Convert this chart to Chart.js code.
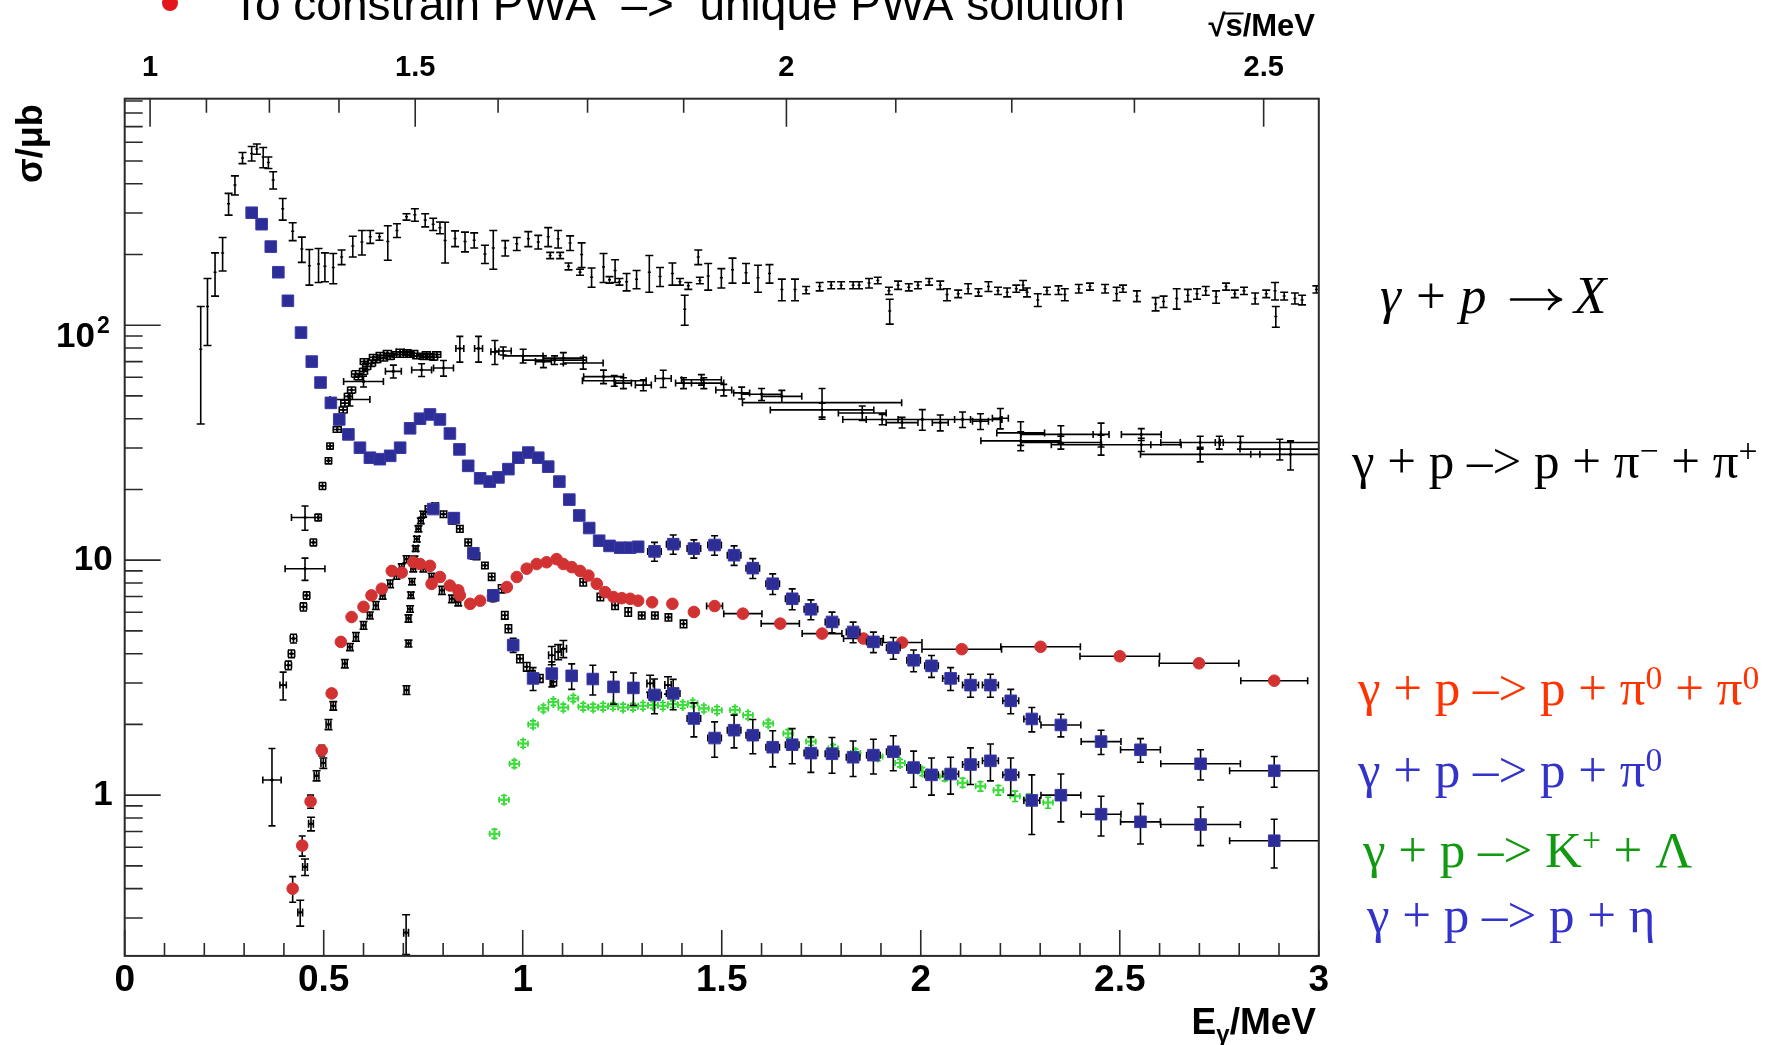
<!DOCTYPE html>
<html>
<head>
<meta charset="utf-8">
<script src="https://cdn.jsdelivr.net/npm/chart.js@4.4.1/dist/chart.umd.min.js"></script>
<style>
  html, body { margin: 0; padding: 0; background: #fff; }
  canvas { display: block; }
</style>
</head>
<body>
<canvas id="xsec" width="1778" height="1045"></canvas>
<script>
// ------------------------------------------------------------
// Photoproduction cross sections on the proton, sigma(E_gamma)
// ------------------------------------------------------------

// gamma + p -> X (total)
const totE = [0.191,0.208,0.227,0.246,0.261,0.277,0.296,0.319,0.332,0.348,0.361,0.373,0.397,0.422,0.445,0.464,0.487,0.503,0.524,0.545,0.573,0.596,0.617,0.640,0.661,0.684,0.708,0.729,0.755,0.775,0.792,0.805,0.830,0.855,0.878,0.905,0.926,0.956,0.985,1.014,1.039,1.064,1.069,1.089,1.094,1.115,1.119,1.144,1.148,1.173,1.203,1.218,1.232,1.243,1.261,1.286,1.318,1.345,1.376,1.395,1.407,1.416,1.441,1.445,1.466,1.499,1.527,1.561,1.591,1.620,1.651,1.684,1.712,1.746,1.775,1.800,1.830,1.845,1.870,1.892,1.920,1.922,1.943,1.970,1.993,2.021,2.049,2.066,2.094,2.119,2.145,2.170,2.194,2.217,2.240,2.257,2.267,2.294,2.317,2.346,2.362,2.397,2.425,2.463,2.492,2.508,2.543,2.590,2.610,2.643,2.671,2.694,2.716,2.742,2.767,2.789,2.812,2.840,2.868,2.890,2.892,2.913,2.940,2.958,2.994];
const totS = [79,120,168,203,329,395,515,538,562,519,492,415,313,251,211,179,182,178,176,195,217,226,238,238,227,253,289,295,280,269,260,229,234,227,230,201,213,213,222,233,226,238,198,233,198,178,224,168,200,160,177,156,171,153,153,157,168,161,166,153,117,147,195,155,162,159,172,167,159,166,142,142,141,146,148,148,148,148,151,155,140,115,148,145,148,153,148,135,136,143,138,146,140,138,143,148,138,128,140,141,135,143,146,143,136,143,133,123,126,130,134,136,140,132,146,136,140,130,136,140,109,133,130,128,142];
const totErr = [41,38,35,33,35,37,28,38,28,51,28,35,33,22,26,31,30,25,26,14,22,27,15,8,38,17,9,18,18,16,15,45,18,22,17,18,40,16,14,17,15,22,6,20,6,6,16,5,24,15,25,5,19,5,13,14,30,15,18,5,17,5,14,5,21,15,21,16,21,15,15,15,5,6,5,5,5,5,7,5,5,14,6,5,5,5,6,8,5,7,5,7,5,6,5,7,6,8,5,6,8,6,5,6,9,5,7,8,7,13,8,7,6,8,5,5,5,7,5,12,11,5,7,6,5];

// gamma + p -> p pi- pi+
const pipiE = [0.370,0.398,0.411,0.419,0.424,0.449,0.453,0.457,0.453,0.474,0.486,0.497,0.512,0.516,0.534,0.541,0.549,0.553,0.562,0.566,0.570,0.580,0.587,0.600,0.600,0.602,0.608,0.620,0.625,0.633,0.642,0.650,0.660,0.667,0.675,0.683,0.692,0.700,0.709,0.717,0.726,0.734,0.746,0.750,0.758,0.767,0.776,0.784,0.801,0.842,0.889,0.930,0.951,1.001,1.052,1.080,1.102,1.152,1.203,1.230,1.253,1.303,1.353,1.404,1.449,1.455,1.505,1.550,1.600,1.651,1.752,1.752,1.853,1.903,1.953,2.004,2.049,2.105,2.150,2.200,2.251,2.251,2.352,2.352,2.453,2.453,2.554,2.554,2.702,2.702,2.750,2.803,2.902,2.929];
const pipiS = [1.16,2.94,3.57,4.0,4.64,6.33,9.2,7.08,15.2,11.9,15.2,20.7,26.5,30.6,36.0,39.7,43.6,46.6,49.8,48.3,53.0,62,60.4,63.6,57.6,70,66.7,68.8,73,71.2,74.5,72.4,76,73.5,63.6,75,77,75,76.5,75,76,74,64.5,73.5,75,73.5,73,75,65.7,79.6,79.6,77,77.7,74,70,71,72.4,69,60.4,58,56.7,55.6,59.3,56.7,58.6,56.7,53.0,51.5,50.8,49.8,46.8,43.6,42.3,39.7,38.5,39.7,38.5,39.7,39,40.2,34.8,32.2,34.3,31.7,34.3,31.0,31.0,34.3,31.7,28.2,31.7,31.7,29.7,28.2];
const pipiErrY = [0.42,0.4,0.15,0.15,0.2,0.25,1.0,0.25,1.8,0.4,0.5,0.7,0.8,0.9,1.0,1.2,1.3,1.4,1.5,3,1.6,2,1.8,1.9,3,2,2,2,2,2,2,2,2,2,4,2,2,2,2,2,2,2,4,2,2,2,2,2,5,10,10,9,3,5,4,3,4,4,4,3,3,3,5,3,3,3,3,3,3,3,7,3,3,2,2,4,3,3,3,4,4,3,3,2,4,3,2,2,2,2,2,2,3,4];
const pipiErrX = [0.023,0.008,0.008,0.008,0.008,0.008,0.05,0.008,0.034,0.008,0.008,0.008,0.008,0.008,0.01,0.01,0.01,0.01,0.01,0.05,0.01,0.01,0.01,0.01,0.05,0.01,0.01,0.01,0.01,0.01,0.01,0.01,0.01,0.01,0.02,0.01,0.01,0.01,0.01,0.01,0.01,0.01,0.025,0.01,0.01,0.01,0.01,0.01,0.025,0.01,0.01,0.01,0.02,0.05,0.02,0.08,0.05,0.05,0.05,0.08,0.02,0.02,0.02,0.02,0.05,0.05,0.02,0.02,0.05,0.05,0.2,0.13,0.06,0.04,0.04,0.2,0.02,0.02,0.02,0.02,0.06,0.1,0.1,0.1,0.02,0.125,0.1,0.05,0.05,0.15,0.01,0.2,0.1,0.1];

// gamma + p -> p pi0
const pi0E = [0.319,0.344,0.367,0.386,0.410,0.443,0.470,0.492,0.518,0.539,0.562,0.591,0.616,0.641,0.667,0.692,0.717,0.742,0.767,0.792,0.817,0.841,0.863,0.893,0.917,0.939,0.964,0.989,1.014,1.039,1.064,1.092,1.117,1.142,1.167,1.192,1.218,1.245,1.270,1.290,1.331,1.378,1.430,1.482,1.531,1.578,1.628,1.677,1.724,1.777,1.830,1.881,1.931,1.982,2.027,2.075,2.125,2.175,2.226,2.279,2.352,2.453,2.552,2.703,2.888];
const pi0S = [301,269,216,168,127,93,70,57,46.7,39.7,34.3,30.1,27.3,26.9,27.8,30.1,36.4,40,41.7,39.7,34.6,29.6,25.2,22.3,21.6,22.5,24.4,27.3,28.7,27.3,25,21.6,18.1,15.5,13.7,12.1,11.5,11.3,11.3,11.4,10.9,11.7,11.2,11.6,10.5,9.25,7.94,6.85,6.18,5.46,4.95,4.49,4.24,3.75,3.55,3.14,2.94,2.94,2.52,2.11,1.99,1.69,1.56,1.36,1.27];
const pi0ErrY = [0,0,0,0,0,0,0,0,0,0,0,0,0,0,0,0,0,0,0,0,0,0,0,0,0,0,0,0,0,0,0,0,0,0,0,0,0,0,0,0,1.0,1.1,1.0,1.1,1.0,0.9,0.8,0.7,0.6,0.55,0.5,0.45,0.45,0.4,0.38,0.35,0.33,0.33,0.3,0.25,0.22,0.2,0.18,0.2,0.19];
const pi0ErrX = [0,0,0,0,0,0,0,0,0,0,0,0,0,0,0,0,0,0,0,0,0,0,0,0,0,0,0,0,0,0,0,0,0,0,0,0,0,0,0,0,0.017,0.017,0.017,0.017,0.017,0.017,0.017,0.017,0.017,0.017,0.017,0.017,0.017,0.017,0.017,0.02,0.02,0.02,0.02,0.02,0.05,0.05,0.05,0.1,0.112];

// gamma + p -> p eta
const etaE = [0.775,0.827,0.876,0.926,0.976,1.026,1.073,1.123,1.176,1.228,1.278,1.331,1.378,1.430,1.482,1.531,1.578,1.628,1.677,1.724,1.777,1.830,1.881,1.931,1.982,2.027,2.075,2.125,2.175,2.226,2.279,2.352,2.453,2.552,2.703,2.888];
const etaS = [16.5,15.1,10.7,7.08,4.35,3.14,3.29,3.22,3.12,2.89,2.86,2.67,2.71,2.12,1.75,1.89,1.80,1.60,1.64,1.51,1.50,1.45,1.48,1.53,1.31,1.22,1.23,1.35,1.40,1.22,0.95,1.00,0.83,0.77,0.75,0.64];
const etaErrY = [0,0.8,0.6,0.4,0.3,0.35,0.4,0.4,0.45,0.45,0.45,0.45,0.4,0.35,0.3,0.3,0.3,0.28,0.28,0.26,0.26,0.25,0.25,0.26,0.23,0.22,0.22,0.24,0.25,0.22,0.27,0.23,0.16,0.15,0.14,0.15];
const etaErrX = [0,0.01,0.01,0.01,0.01,0.01,0.012,0.012,0.012,0.012,0.012,0.017,0.017,0.017,0.017,0.017,0.017,0.017,0.017,0.017,0.017,0.017,0.017,0.017,0.017,0.017,0.02,0.02,0.02,0.02,0.02,0.05,0.05,0.05,0.1,0.112];

// gamma + p -> p pi0 pi0
const ppE = [0.422,0.446,0.467,0.495,0.520,0.543,0.570,0.600,0.620,0.646,0.671,0.696,0.725,0.742,0.767,0.771,0.792,0.817,0.838,0.842,0.868,0.893,0.925,0.960,0.985,1.010,1.035,1.060,1.085,1.102,1.123,1.144,1.165,1.186,1.207,1.228,1.249,1.270,1.290,1.325,1.376,1.430,1.482,1.553,1.647,1.752,1.856,1.953,2.103,2.301,2.500,2.699,2.888];
const ppS = [0.40,0.61,0.94,1.55,2.71,4.49,5.73,6.33,7.08,7.56,9.0,8.86,9.8,9.63,9.46,7.93,8.48,7.80,7.44,7.08,6.52,6.72,7.0,7.68,8.48,9.2,9.63,9.8,10.1,9.63,9.34,9.0,8.6,7.93,7.31,6.97,6.89,6.85,6.72,6.62,6.52,6.02,6.38,5.92,5.37,4.87,4.64,4.46,4.18,4.28,3.90,3.64,3.07];
const ppErrY = [0.05,0.06,0.06,0.08,0.1,0,0,0,0,0,0,0,0,0,0,0,0,0,0,0,0,0,0,0,0,0,0,0,0,0,0,0,0,0,0,0,0,0,0,0,0,0,0,0,0,0,0,0,0,0,0,0,0];
const ppErrX = [0,0,0,0,0,0,0,0,0,0,0,0,0,0,0,0,0,0,0,0,0,0,0,0,0,0,0,0,0,0,0,0,0,0,0,0,0,0,0,0,0,0,0.02,0.048,0.048,0.05,0.05,0.05,0.1,0.1,0.1,0.1,0.084];

// gamma + p -> K+ Lambda
const klE = [0.929,0.953,0.979,1.001,1.026,1.052,1.077,1.102,1.127,1.152,1.177,1.202,1.227,1.252,1.277,1.302,1.327,1.352,1.377,1.402,1.427,1.455,1.488,1.533,1.566,1.617,1.667,1.724,1.780,1.836,1.892,1.948,2.004,2.060,2.105,2.150,2.195,2.237,2.271,2.320];
const klS = [0.685,0.957,1.36,1.66,2.0,2.34,2.49,2.36,2.58,2.38,2.36,2.38,2.40,2.36,2.38,2.40,2.42,2.40,2.44,2.42,2.46,2.34,2.30,2.30,2.19,2.02,1.83,1.69,1.58,1.51,1.46,1.37,1.26,1.20,1.13,1.09,1.05,0.99,0.96,0.93];
const klErrY = [0.03,0.04,0.05,0.06,0.07,0.08,0.08,0.08,0.08,0.08,0.08,0.08,0.08,0.08,0.08,0.08,0.08,0.08,0.08,0.08,0.08,0.08,0.08,0.08,0.08,0.07,0.07,0.06,0.06,0.06,0.06,0.05,0.05,0.05,0.05,0.05,0.05,0.05,0.05,0.05];
const klErrX = [0.012,0.012,0.012,0.012,0.012,0.012,0.012,0.012,0.012,0.012,0.012,0.012,0.012,0.012,0.012,0.012,0.012,0.012,0.012,0.012,0.012,0.012,0.012,0.012,0.012,0.012,0.012,0.012,0.012,0.012,0.012,0.012,0.012,0.012,0.012,0.012,0.012,0.012,0.012,0.012];

// eta threshold data (black markers)
const etbE = [0.707,0.708,0.713,0.713,0.717,0.719,0.722,0.725,0.728,0.731,0.734,0.738,0.744,0.750,0.763,0.780,0.801,0.822,0.842,0.863,0.884,0.905,0.922,0.947,0.955,0.964,0.976,0.993,1.010,1.023,1.043,1.073,1.077,1.089,1.102,1.320,1.365];
const etbS = [0.26,2.80,4.42,5.65,6.2,7.1,8.1,9.2,10.1,11.2,12.3,13.6,14.7,15.7,16.5,17.0,15.7,14.7,13.6,11.9,10.4,9.5,8.5,7.56,5.83,5.11,4.35,3.81,3.52,3.24,3.14,3.94,3.04,4.07,4.2,2.99,2.94];
const etbErrY = [0.05,0.12,0.15,0.2,0.2,0.22,0.25,0.28,0.3,0.3,0.35,0.4,0.4,0.45,0.5,0.5,0.5,0.45,0.45,0.4,0.35,0.3,0.3,0.3,0.22,0.2,0.18,0.15,0.15,0.15,0.12,0.35,0.12,0.3,0.35,0.25,0.25];
const etbErrX = [0.006,0.006,0.006,0.006,0.006,0.006,0.006,0.006,0.006,0.006,0.006,0.006,0.006,0.006,0.008,0.008,0.008,0.008,0.008,0.008,0.008,0.008,0.008,0.008,0.008,0.008,0.008,0.008,0.008,0.008,0.008,0.008,0.008,0.008,0.008,0.008,0.008];

// pi0 pi0 data (black markers)
const ppbE = [0.441,0.453,0.468,0.482,0.499,0.512,0.524,0.553,0.566,0.581,0.600,0.616,0.631,0.648,0.667,0.683,0.696,0.708,0.750,0.771,0.797,0.822,0.838,1.152,1.195,1.232,1.265,1.299,1.332,1.366,1.404];
const ppbS = [0.317,0.495,0.755,1.21,1.37,2.0,2.4,3.63,4.27,4.72,5.28,5.82,6.42,7.08,7.93,8.6,9.34,10.1,9.2,8.5,7.44,6.85,6.64,8.06,6.97,6.42,6.02,5.82,5.82,5.71,5.36];
const ppbErrY = [0.04,0.04,0.05,0.06,0.07,0.1,0.1,0.15,0.15,0.2,0.2,0.2,0.25,0.25,0.3,0.3,0.3,0.35,0.3,0.3,0.3,0.25,0.25,0.3,0.25,0.25,0.25,0.2,0.2,0.2,0.2];
const ppbErrX = [0.006,0.006,0.006,0.006,0.006,0.006,0.006,0.006,0.006,0.006,0.006,0.006,0.006,0.006,0.006,0.006,0.006,0.006,0.006,0.006,0.006,0.006,0.006,0.008,0.008,0.008,0.008,0.008,0.008,0.008,0.008];

// axes
const yMajor = [1, 10, 100];
const yLabels = ['1', '10', ''];      // 10^2 is set with a raised exponent below
const M_P = 0.938272;
const sqrtSTicks = [1, 1.125, 1.25, 1.375, 1.5, 1.625, 1.75, 1.875, 2, 2.125, 2.25, 2.375, 2.5];
const sqrtSLabels = ['1', '', '', '', '1.5', '', '', '', '2', '', '', '', '2.5'];
const eFromSqrtS = w => (w * w - M_P * M_P) / (2 * M_P);

const headline = 'To constrain PWA  –>  unique PWA solution';
const reactions = [
  { x: 1352, y: 478, size: 51, color: '#000', parts: [['γ + p –> p + π', ''], ['−', 'sup'], [' + π', ''], ['+', 'sup']] },
  { x: 1358, y: 705, size: 51, color: '#ff3300', parts: [['γ + p –> p + π', ''], ['0', 'sup'], [' + π', ''], ['0', 'sup']] },
  { x: 1358, y: 787, size: 51, color: '#3333cc', parts: [['γ + p –> p + π', ''], ['0', 'sup']] },
  { x: 1363, y: 867, size: 51, color: '#129912', parts: [['γ + p –> K', ''], ['+', 'sup'], [' + Λ', '']] },
  { x: 1367, y: 932, size: 51, color: '#3333cc', parts: [['γ + p –> p + η', '']] },
];

const SANS = '"Liberation Sans", Arial, sans-serif';
const SERIF = '"Liberation Serif", "Times New Roman", serif';

const pts = (xs, ys) => xs.map((x, i) => ({ x, y: ys[i] }));

// ── error bars, drawn under each dataset's markers ─────────────────────────
const errorBars = {
    id: 'errorBars',
    beforeDatasetDraw(chart, args) {
        const ds = chart.data.datasets[args.index];
        if (!ds.errY && !ds.errX) return;
        const { ctx, chartArea: a, scales: { x, y } } = chart;
        const cap = ds.cap || 3.5;
        ctx.save();
        ctx.beginPath();
        ctx.rect(a.left, a.top, a.right - a.left, a.bottom - a.top);
        ctx.clip();
        ctx.strokeStyle = ds.barColor || '#000';
        ctx.lineWidth = ds.barWidth || 1.6;
        ctx.beginPath();
        ds.data.forEach((p, i) => {
            const px = x.getPixelForValue(p.x);
            const py = y.getPixelForValue(p.y);
            const ey = ds.errY ? ds.errY[i] : 0;
            const ex = ds.errX ? ds.errX[i] : 0;
            if (ey > 0) {
                const top = y.getPixelForValue(p.y + ey);
                const bot = y.getPixelForValue(Math.max(p.y - ey, 1e-3));
                ctx.moveTo(px, top); ctx.lineTo(px, bot);
                ctx.moveTo(px - cap, top); ctx.lineTo(px + cap, top);
                ctx.moveTo(px - cap, bot); ctx.lineTo(px + cap, bot);
            }
            if (ex > 0) {
                const l = x.getPixelForValue(p.x - ex);
                const r = x.getPixelForValue(p.x + ex);
                ctx.moveTo(l, py); ctx.lineTo(r, py);
                ctx.moveTo(l, py - cap); ctx.lineTo(l, py + cap);
                ctx.moveTo(r, py - cap); ctx.lineTo(r, py + cap);
            }
        });
        ctx.stroke();
        ctx.restore();
    },
};

// ── frame and inward tick marks ────────────────────────────────────────────
const frame = {
    id: 'frame',
    afterDatasetsDraw(chart) {
        const { ctx, chartArea: a, scales } = chart;
        ctx.save();
        ctx.strokeStyle = '#2a2a2a';
        ctx.lineWidth = 2;
        ctx.strokeRect(a.left, a.top, a.right - a.left, a.bottom - a.top);
        ctx.lineWidth = 1.6;
        ctx.beginPath();
        for (let i = 0; i <= 30; i++) {
            const px = scales.x.getPixelForValue(i / 10);
            const len = i % 5 === 0 ? 26 : 13;
            ctx.moveTo(px, a.bottom); ctx.lineTo(px, a.bottom - len);
        }
        sqrtSTicks.forEach((w, i) => {
            const px = scales.x2.getPixelForValue(eFromSqrtS(w));
            const len = sqrtSLabels[i] ? 28 : 14;
            ctx.moveTo(px, a.top); ctx.lineTo(px, a.top + len);
        });
        [0.1, 1, 10, 100].forEach(d => {
            for (let k = 1; k <= 9; k++) {
                const v = k * d;
                if (v < scales.y.min || v > scales.y.max) continue;
                const py = scales.y.getPixelForValue(v);
                ctx.moveTo(a.left, py); ctx.lineTo(a.left + (k === 1 ? 36 : 18), py);
            }
        });
        ctx.stroke();
        ctx.restore();
    },
};

function drawParts(ctx, x, y, size, color, parts) {
    let cx = x;
    ctx.fillStyle = color;
    parts.forEach(([t, mode]) => {
        const sup = mode === 'sup';
        const s = sup ? size * 0.66 : size;
        ctx.font = `${mode === 'i' ? 'italic ' : ''}${s}px ${SERIF}`;
        ctx.fillText(t, cx, sup ? y - size * 0.31 : y);
        cx += ctx.measureText(t).width;
    });
}

// ── titles and reaction labels ─────────────────────────────────────────────
const annotations = {
    id: 'annotations',
    afterDraw(chart) {
        const { ctx, scales } = chart;
        ctx.save();
        ctx.textBaseline = 'alphabetic';
        ctx.textAlign = 'left';

        ctx.beginPath();
        ctx.arc(170, 3, 8, 0, Math.PI * 2);
        ctx.fillStyle = '#e3141b';
        ctx.fill();
        ctx.fillStyle = '#000';
        ctx.font = `46px ${SANS}`;
        ctx.fillText(headline, 232, 20);

        // 10^2 label on the sigma axis
        const y100 = scales.y.getPixelForValue(100);
        ctx.font = `bold 35px ${SANS}`;
        ctx.textAlign = 'right';
        ctx.fillText('10', 95, y100 + 22);
        ctx.textAlign = 'left';
        ctx.font = `bold 23px ${SANS}`;
        ctx.fillText('2', 97, y100 + 8);

        // sqrt(s) axis title
        ctx.font = `bold 31px ${SANS}`;
        const wRad = ctx.measureText('√').width;
        const wS = ctx.measureText('s').width;
        const wRest = ctx.measureText('s/MeV').width;
        const x0 = 1315 - wRad - wRest;
        ctx.fillText('√', x0, 36);
        ctx.fillText('s/MeV', x0 + wRad, 36);
        ctx.strokeStyle = '#000';
        ctx.lineWidth = 2;
        ctx.beginPath();
        ctx.moveTo(x0 + wRad - 2, 13.5); ctx.lineTo(x0 + wRad + wS + 1, 13.5);
        ctx.stroke();

        // E_gamma axis title
        ctx.font = `bold 37px ${SANS}`;
        const wE = ctx.measureText('E').width;
        const wMev = ctx.measureText('/MeV').width;
        ctx.font = `bold 24px ${SANS}`;
        const wG = ctx.measureText('γ').width;
        const ex0 = 1316 - wE - wG - wMev;
        ctx.font = `bold 37px ${SANS}`;
        ctx.fillText('E', ex0, 1034);
        ctx.fillText('/MeV', ex0 + wE + wG, 1034);
        ctx.font = `bold 24px ${SANS}`;
        ctx.fillText('γ', ex0 + wE, 1042);

        // sigma axis title
        ctx.save();
        ctx.translate(42, 183);
        ctx.rotate(-Math.PI / 2);
        ctx.font = `bold 36px ${SANS}`;
        ctx.fillText('σ/μb', 0, 0);
        ctx.restore();

        // gamma + p -> X, math style with a long arrow
        ctx.fillStyle = '#000';
        ctx.font = `italic 53px ${SERIF}`;
        ctx.fillText('γ', 1380, 313);
        ctx.fillText('p', 1460, 313);
        ctx.fillText('X', 1574, 313);
        ctx.font = `53px ${SERIF}`;
        ctx.fillText('+', 1416, 313);
        ctx.lineWidth = 2.6;
        ctx.lineCap = 'round';
        ctx.beginPath();
        ctx.moveTo(1511, 299.5); ctx.lineTo(1560, 299.5);
        ctx.moveTo(1549, 290); ctx.quadraticCurveTo(1553, 297, 1561, 299.5);
        ctx.moveTo(1549, 309); ctx.quadraticCurveTo(1553, 302, 1561, 299.5);
        ctx.stroke();

        reactions.forEach(r => drawParts(ctx, r.x, r.y, r.size, r.color, r.parts));
        ctx.restore();
    },
};

const axisFont = size => ({ family: SANS, size, weight: 'bold', lineHeight: 1 });

new Chart(document.getElementById('xsec'), {
    type: 'scatter',
    data: {
        datasets: [
            { label: 'p pi0', data: pts(pi0E, pi0S), errY: pi0ErrY, errX: pi0ErrX, order: 0,
              pointStyle: 'rect', pointRadius: 8.2, pointBackgroundColor: '#2d2d98', pointBorderColor: '#3a3aa8', pointBorderWidth: 1 },
            { label: 'p eta', data: pts(etaE, etaS), errY: etaErrY, errX: etaErrX, order: 0,
              pointStyle: 'rect', pointRadius: 8.2, pointBackgroundColor: '#2d2d98', pointBorderColor: '#3a3aa8', pointBorderWidth: 1 },
            { label: 'p pi0 pi0', data: pts(ppE, ppS), errY: ppErrY, errX: ppErrX, order: 0,
              pointStyle: 'circle', pointRadius: 5.8, pointBackgroundColor: '#d23232', pointBorderColor: '#d23232', pointBorderWidth: 1 },
            { label: 'K+ Lambda', data: pts(klE, klS), errY: klErrY, errX: klErrX, order: 0, barColor: '#2bd12b', cap: 3,
              pointStyle: 'cross', pointRadius: 6, pointBorderColor: '#3ce03c', pointBorderWidth: 2 },
            { label: 'eta (black)', data: pts(etbE, etbS), errY: etbErrY, errX: etbErrX, order: 1, cap: 4,
              pointStyle: 'circle', pointRadius: 1.2, pointBackgroundColor: '#000', pointBorderColor: '#000' },
            { label: 'pi0 pi0 (black)', data: pts(ppbE, ppbS), errY: ppbErrY, errX: ppbErrX, order: 1, cap: 4,
              pointStyle: 'circle', pointRadius: 1.2, pointBackgroundColor: '#000', pointBorderColor: '#000' },
            { label: 'p pi- pi+', data: pts(pipiE, pipiS), errY: pipiErrY, errX: pipiErrX, order: 1, cap: 3.5,
              pointStyle: 'circle', pointRadius: 1.2, pointBackgroundColor: '#000', pointBorderColor: '#000' },
            { label: 'total', data: pts(totE, totS), errY: totErr, order: 1, cap: 4,
              pointStyle: 'line', pointRadius: 1.5, pointBorderColor: '#000', pointBorderWidth: 1.5 },
        ],
    },
    options: {
        responsive: false, animation: false, devicePixelRatio: 1,
        layout: { padding: { left: 0, right: 459.2, top: 0, bottom: 0 } },
        plugins: { legend: { display: false }, tooltip: { enabled: false } },
        scales: {
            x: {
                type: 'linear', position: 'bottom', min: 0, max: 3,
                afterFit: s => { s.height = 89.1; },
                grid: { display: false, drawTicks: false }, border: { display: false },
                ticks: { stepSize: 0.5, padding: 6, color: '#000', font: axisFont(37), maxRotation: 0, autoSkip: false,
                         callback: v => String(+v.toFixed(2)) },
            },
            x2: {
                type: 'linear', position: 'top', min: 0, max: 3,
                afterFit: s => { s.height = 98.7; },
                afterBuildTicks: s => { s.ticks = sqrtSTicks.map(w => ({ value: eFromSqrtS(w) })); },
                grid: { display: false, drawTicks: false }, border: { display: false },
                ticks: { callback: (v, i) => sqrtSLabels[i], padding: 16, color: '#000', font: axisFont(29), maxRotation: 0, autoSkip: false },
            },
            y: {
                type: 'logarithmic', min: 0.207, max: 920,
                afterFit: s => { s.width = 124.7; },
                afterBuildTicks: s => { s.ticks = yMajor.map(v => ({ value: v })); },
                grid: { display: false, drawTicks: false }, border: { display: false },
                ticks: { callback: (v, i) => yLabels[i], padding: 12, color: '#000', font: axisFont(35), autoSkip: false },
            },
        },
    },
    plugins: [errorBars, frame, annotations],
});
</script>
</body>
</html>
